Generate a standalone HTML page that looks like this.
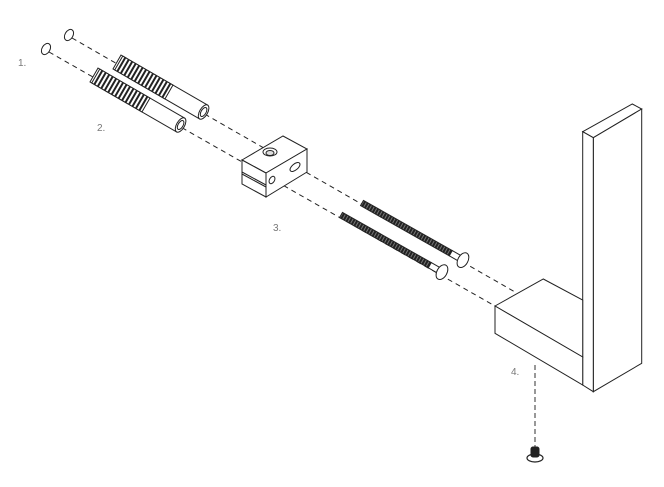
<!DOCTYPE html>
<html><head><meta charset="utf-8"><style>
html,body{margin:0;padding:0;background:#fff;width:664px;height:487px;overflow:hidden}
svg text{font-family:"Liberation Sans",sans-serif;font-size:10px;fill:#777}
</style></head><body>
<svg width="664" height="487" viewBox="0 0 664 487" xmlns="http://www.w3.org/2000/svg">
<defs>
<pattern id="thr" width="3" height="3" patternUnits="userSpaceOnUse"><rect width="3" height="3" fill="#222"/><rect width="1" height="3" fill="#777"/></pattern>
<pattern id="thr2" width="4" height="4" patternUnits="userSpaceOnUse"><rect width="4" height="4" fill="#fff"/><rect width="2" height="4" fill="#222"/></pattern>
</defs>
<g fill="none" stroke="#222" stroke-width="1">
<path d="M72 38 L515 292" stroke-dasharray="5,4"/>
<path d="M49 52 L495 306" stroke-dasharray="5,4"/>
<path d="M535 365 L535 448" stroke="#777" stroke-width="1.5" stroke-dasharray="5,3"/>
<ellipse cx="69" cy="35" rx="4" ry="6" transform="rotate(30 69 35)"/>
<ellipse cx="46" cy="49" rx="4" ry="6" transform="rotate(30 46 49)"/>
</g>
<g stroke="#222" stroke-width="1">
<g transform="translate(117,62) rotate(30)">
<rect x="0" y="-8" width="100" height="16" fill="#fff"/>
<rect x="2" y="-8" width="58" height="16" fill="url(#thr2)"/>
<ellipse cx="100" cy="0" rx="4" ry="8" fill="#fff"/>
<ellipse cx="100" cy="0" rx="2.5" ry="5" fill="#fff"/>
</g>
<g transform="translate(94,75) rotate(30)">
<rect x="0" y="-8" width="100" height="16" fill="#fff"/>
<rect x="2" y="-8" width="58" height="16" fill="url(#thr2)"/>
<ellipse cx="100" cy="0" rx="4" ry="8" fill="#fff"/>
<ellipse cx="100" cy="0" rx="2.5" ry="5" fill="#fff"/>
</g>
</g>
<g stroke="#222" stroke-width="1" fill="#fff">
<path d="M242 160 L283 136 L307 149 L266 173 Z"/>
<path d="M242 160 L266 173 L266 197 L242 184 Z"/>
<path d="M266 173 L307 149 L307 172 L266 197 Z"/>
<path d="M242 172 L266 185 M242 174 L266 187" fill="none"/>
<ellipse cx="270" cy="152" rx="7" ry="4"/>
<ellipse cx="270" cy="153" rx="4" ry="2.5" fill="#ddd"/>
<ellipse cx="295" cy="167" rx="3" ry="6" transform="rotate(50 295 167)"/>
<ellipse cx="272" cy="180" rx="2.5" ry="4" transform="rotate(30 272 180)"/>
</g>
<g stroke="#222" stroke-width="1">
<g transform="translate(362,203) rotate(29.5)">
<rect x="0" y="-3" width="102" height="6" fill="url(#thr)"/>
<rect x="102" y="-3" width="10" height="6" fill="#fff"/>
<ellipse cx="116" cy="0" rx="5" ry="8" fill="#fff"/>
</g>
<g transform="translate(341,215) rotate(29.5)">
<rect x="0" y="-3" width="102" height="6" fill="url(#thr)"/>
<rect x="102" y="-3" width="10" height="6" fill="#fff"/>
<ellipse cx="116" cy="0" rx="5" ry="8" fill="#fff"/>
</g>
</g>
<g stroke="#222" stroke-width="1" fill="#fff">
<path d="M582.7 131.7 L632.3 104 L641.7 109 L593.3 137.7 Z"/>
<path d="M593.3 137.7 L641.7 109 L641.7 363.3 L593.3 391.7 Z"/>
<path d="M582.7 131.7 L593.3 137.7 L593.3 391.7 L582.7 385 Z"/>
<path d="M495 306 L543.3 279 L582.7 300 L582.7 357 Z"/>
<path d="M495 306 L582.7 357 L582.7 385 L495 333.3 Z"/>
</g>
<g stroke="#222">
<ellipse cx="535" cy="458" rx="8" ry="4" fill="#fff" stroke-width="1.2"/>
<rect x="531" y="447" width="8" height="10" rx="2" fill="#222"/>
</g>
<text x="18" y="66">1.</text>
<text x="97" y="131">2.</text>
<text x="273" y="231">3.</text>
<text x="511" y="375">4.</text>
</svg>
</body></html>
